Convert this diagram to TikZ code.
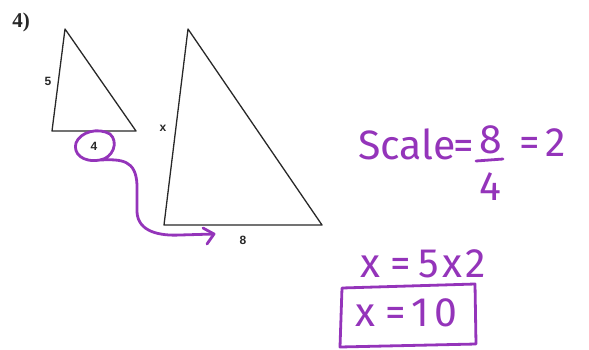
\documentclass[tikz,border=0pt]{standalone}
\usepackage{fontspec}
\setmainfont{Liberation Serif}
\newfontfamily\labelfont{Liberation Sans}
\newfontfamily\handfont{Fira Sans}
\usetikzlibrary{arrows.meta}
\definecolor{pen}{RGB}{148,52,186}
\definecolor{ink}{RGB}{40,40,40}
\tikzset{
  tri/.style={draw=ink, line width=1.3pt, line join=round},
  lbl/.style={font=\labelfont\bfseries\fontsize{12}{12}\selectfont, text=ink, inner sep=0pt},
  hand/.style={font=\handfont\fontsize{41}{41}\selectfont, text=pen, inner sep=0pt, anchor=base west},
  penline/.style={draw=pen, line width=2.8pt, line cap=round, line join=round},
}
\begin{document}
\begin{tikzpicture}[x=1pt,y=-1pt]
\useasboundingbox (0,0) rectangle (589,349);
% problem number
\node[font=\fontsize{21}{21}\selectfont\bfseries, text=ink, inner sep=0pt] (num) at (21,22) {4)};
% small triangle
\coordinate (sA) at (65,29);
\coordinate (sB) at (52,131);
\coordinate (sC) at (136,131);
\draw[tri] (sA) -- (sB) -- (sC) -- cycle;
\node[lbl] (l5) at (48,81) {5};
\node[lbl] (l4) at (94,146) {4};
% big triangle
\coordinate (bA) at (188,29);
\coordinate (bB) at (164,225);
\coordinate (bC) at (322,225);
\draw[tri] (bA) -- (bB) -- (bC) -- cycle;
\node[lbl] (lx) at (163,128) {x};
\node[lbl] (l8) at (243,240) {8};
% purple loop around 4 and arrow
\draw[penline] (100,160) .. controls (82,163) and (73,153) .. (76,143)
  .. controls (80,132) and (98,127) .. (110,134)
  .. controls (119,142) and (113,158) .. (100,160)
  .. controls (122,159) and (136,160) .. (137,185)
  -- (137,212)
  .. controls (138,232) and (160,236) .. (180,235)
  -- (214,234);
\coordinate (tip) at (214,234);
\draw[penline] (203,228) -- (tip) -- (207,244);
% handwritten work
\node[hand] (scale) at (358,159) {Scale\hspace{-2pt}=};
\node[hand, anchor=base] (n8) at (491,153) {8};
\draw[penline] (476,161) -- (503,159);
\node[hand, anchor=base] (d4) at (490,200) {4};
\node[hand] (eq2) at (519,156) {=\hspace{6pt}2};
\node[hand] (x52) at (360,277) {x\hspace{10pt}=\hspace{8pt}5\hspace{3pt}x\hspace{3pt}2};
\node[hand] (x10) at (355,326) {x\hspace{10pt}=\hspace{6pt}1\hspace{5pt}0};
\draw[penline] (342,288) -- (340,347) -- (476,344) -- (475,284) -- cycle;
\end{tikzpicture}
\end{document}
